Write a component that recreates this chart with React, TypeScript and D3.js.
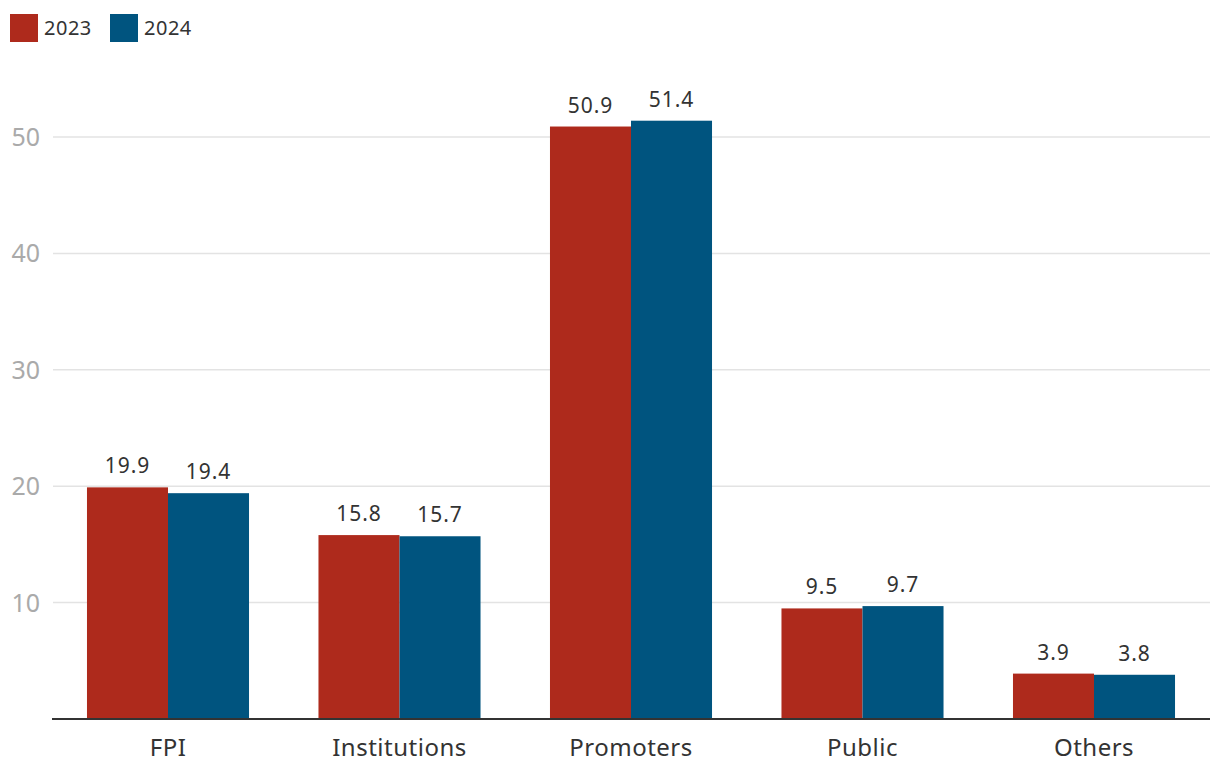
import React from "react";
import * as d3 from "d3";

const categories = ["FPI", "Institutions", "Promoters", "Public", "Others"];
const seriesNames = ["2023", "2024"];
const values2023 = [19.9, 15.8, 50.9, 9.5, 3.9];
const values2024 = [19.4, 15.7, 51.4, 9.7, 3.8];
const yTicks = [10, 20, 30, 40, 50];
const colors = ["#AE2A1C", "#00547F"];

const W = 1220;
const H = 782;
const FONT = "'Noto Sans', 'Open Sans', sans-serif";

export default function App() {
  const x0 = d3.scaleBand<string>().domain(categories).range([52.25, 1209.75]).paddingInner(0.3).paddingOuter(0.15);
  const x1 = d3.scaleBand<string>().domain(seriesNames).range([0, x0.bandwidth()]);
  const y = d3.scaleLinear().domain([0, 50]).range([719, 137]);
  const series = [values2023, values2024];

  return (
    <svg width={W} height={H} style={{ position: "absolute", left: 0, top: 0, background: "#fff" }} fontFamily={FONT}>
      {/* legend */}
      {seriesNames.map((s, i) => (
        <g key={s} transform={`translate(${10 + i * 100},14)`}>
          <rect width={28} height={28} fill={colors[i]} />
          <text x={34} y={21} fontSize={20} fill="#333" letterSpacing={0.5}>{s}</text>
        </g>
      ))}
      {/* grid */}
      {yTicks.map((t) => (
        <g key={t}>
          <line x1={53} x2={1210} y1={y(t)} y2={y(t)} stroke="#e3e3e3" strokeWidth={1.5} />
          <text x={40} y={y(t) + 9} textAnchor="end" fontSize={25} fill="#aaa">{t}</text>
        </g>
      ))}
      {/* bars */}
      {categories.map((c, ci) => (
        <g key={c} transform={`translate(${x0(c)},0)`}>
          {seriesNames.map((s, si) => {
            const v = series[si][ci];
            return (
              <g key={s}>
                <rect x={x1(s)} y={y(v)} width={x1.bandwidth()} height={y(0) - y(v)} fill={colors[si]} />
                <text x={(x1(s) as number) + x1.bandwidth() / 2} y={y(v) - 14} textAnchor="middle" fontSize={21} fill="#333" letterSpacing={1}>
                  {v.toFixed(1)}
                </text>
              </g>
            );
          })}
          <text x={x0.bandwidth() / 2} y={756} textAnchor="middle" fontSize={24} fill="#333" letterSpacing={0.5}>{c}</text>
        </g>
      ))}
      <line x1={52} x2={1210} y1={719} y2={719} stroke="#333" strokeWidth={2} />
    </svg>
  );
}
